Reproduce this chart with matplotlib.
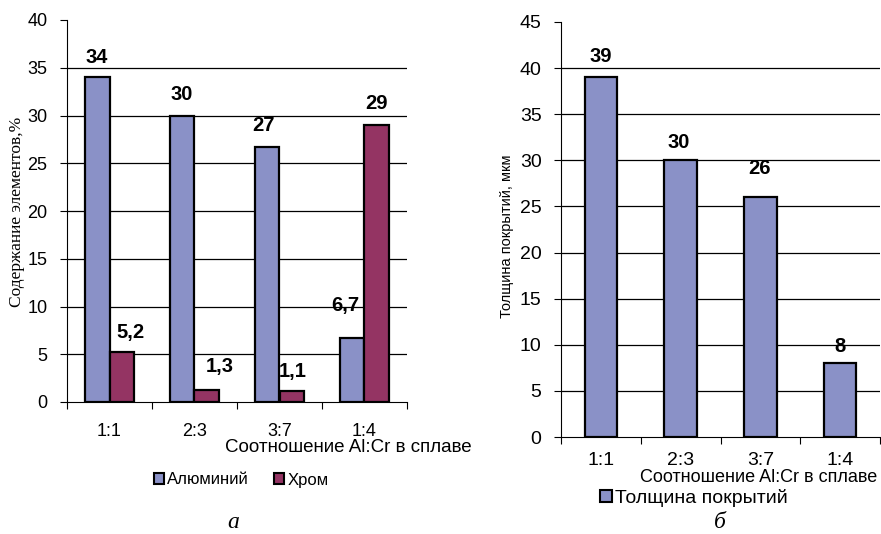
import numpy as np
import matplotlib.pyplot as plt
from matplotlib.patches import Patch

plt.rcParams['font.family'] = ['Liberation Sans', 'DejaVu Sans']

# data
ratios = ['1:1', '2:3', '3:7', '1:4']
al = [34, 30, 26.7, 6.7]
cr = [5.2, 1.3, 1.1, 29]
al_lbl = ['34', '30', '27', '6,7']
cr_lbl = ['5,2', '1,3', '1,1', '29']
thick = [39, 30, 26, 8]
thick_lbl = ['39', '30', '26', '8']

c_al = '#8A91C7'
c_cr = '#943463'

W, H = 881, 534
fig = plt.figure(figsize=(W / 100, H / 100), dpi=100)

def px(x0, y_top, x1, y_bot):
    return [x0 / W, 1 - y_bot / H, (x1 - x0) / W, (y_bot - y_top) / H]

def style(ax, ymax, tsize, pad_x):
    ax.set_xlim(0, 4)
    ax.set_ylim(0, ymax)
    ax.set_yticks(np.arange(0, ymax + 1, 5))
    for t in np.arange(5, ymax, 5):
        ax.axhline(t, color='black', lw=0.9, zorder=0)
    for s in ['top', 'right']:
        ax.spines[s].set_visible(False)
    ax.set_xticks(range(5))
    ax.set_xticklabels([])
    ax.set_xticks(np.arange(4) + 0.5, ratios, minor=True)
    ax.tick_params(axis='x', which='major', length=5, direction='out')
    ax.tick_params(axis='x', which='minor', length=0, pad=pad_x, labelsize=tsize)
    ax.tick_params(axis='y', length=5, pad=9, labelsize=tsize)

# --- panel a ---
ax1 = fig.add_axes(px(67, 20, 407, 402))
x = np.arange(4) + 0.5
bw = 0.29
ax1.bar(x - bw / 2, al, bw, color=c_al, edgecolor='black', lw=1.6, zorder=2)
ax1.bar(x + bw / 2, cr, bw, color=c_cr, edgecolor='black', lw=1.6, zorder=2)
style(ax1, 40, 13, 15)

al_off = [(0, 20), (0, 21), (-4, 22), (-7, 33)]
cr_off = [(9, 20), (13, 23), (1, 20), (0, 22)]
for i in range(4):
    ax1.annotate(al_lbl[i], (x[i] - bw / 2, al[i]), xytext=(al_off[i][0] * 0.72, al_off[i][1] * 0.72),
                 textcoords='offset points', ha='center', va='center', fontsize=14.5, fontweight='bold')
    ax1.annotate(cr_lbl[i], (x[i] + bw / 2, cr[i]), xytext=(cr_off[i][0] * 0.72, cr_off[i][1] * 0.72),
                 textcoords='offset points', ha='center', va='center', fontsize=14.5, fontweight='bold')

fig.text(17 / W, 1 - 212 / H, 'Содержание элементов,%', rotation=90, ha='center', va='center',
         fontsize=12.5, family=['Liberation Serif', 'DejaVu Serif'])
fig.text(225 / W, 1 - 447 / H, 'Соотношение Al:Cr в сплаве', ha='left', va='center', fontsize=13.5)
fig.legend(handles=[Patch(facecolor=c_al, edgecolor='black', lw=1.5, label='Алюминий'),
                    Patch(facecolor=c_cr, edgecolor='black', lw=1.5, label='Хром')],
           loc='center', bbox_to_anchor=(241 / W, 1 - 480 / H), ncol=2, frameon=False,
           fontsize=12, handlelength=0.6, handleheight=0.6, handletextpad=0.2, columnspacing=1.5)
fig.text(233 / W, 1 - 522 / H, 'а', ha='center', va='center', fontsize=17, style='italic',
         family=['Liberation Serif', 'DejaVu Serif'])

# --- panel b ---
ax2 = fig.add_axes(px(561, 22, 880, 437))
ax2.bar(x, thick, 0.41, color=c_al, edgecolor='black', lw=1.6, zorder=2)
style(ax2, 45, 14, 11)
t_off = [(0, 21), (-2, 18), (-1, 29), (0, 17)]
for i in range(4):
    ax2.annotate(thick_lbl[i], (x[i], thick[i]), xytext=(t_off[i][0] * 0.72, t_off[i][1] * 0.72),
                 textcoords='offset points', ha='center', va='center', fontsize=14.5, fontweight='bold')

fig.text(507 / W, 1 - 236 / H, 'Толщина покрытий, мкм', rotation=90, ha='center', va='center',
         fontsize=10.5)
fig.text(640 / W, 1 - 478 / H, 'Соотношение Al:Cr в сплаве', ha='left', va='center', fontsize=13)
fig.legend(handles=[Patch(facecolor=c_al, edgecolor='black', lw=1.5, label='Толщина покрытий')],
           loc='center', bbox_to_anchor=(694 / W, 1 - 498 / H), frameon=False,
           fontsize=14, handlelength=0.6, handleheight=0.6, handletextpad=0.2)
fig.text(720 / W, 1 - 522 / H, 'б', ha='center', va='center', fontsize=17, style='italic',
         family=['Liberation Serif', 'DejaVu Serif'])

fig.savefig('out.png', dpi=100)
